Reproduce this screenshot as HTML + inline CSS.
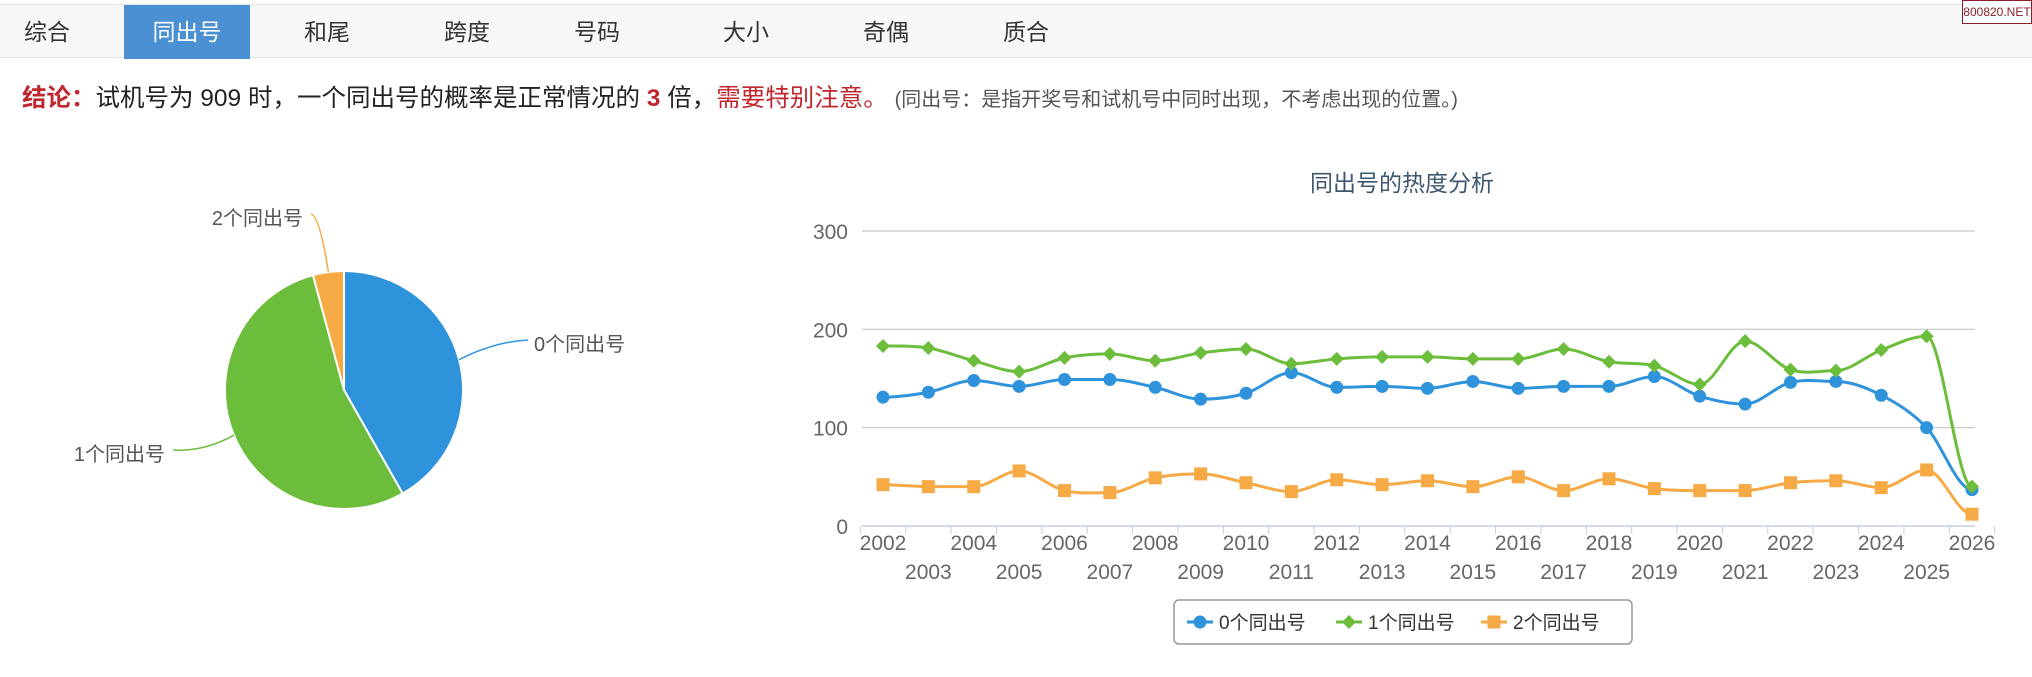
<!DOCTYPE html>
<html><head><meta charset="utf-8">
<style>
*{margin:0;padding:0;box-sizing:border-box}
body{width:2032px;height:677px;background:#fff;font-family:"Liberation Sans","Noto Sans CJK SC",sans-serif;position:relative;overflow:hidden}
.nav{position:absolute;left:0;top:4px;width:2032px;height:54px;background:#f7f7f7;border-top:1px solid #e3e3e3;border-bottom:1px solid #e3e3e3}
.tab{position:absolute;top:0;height:54px;line-height:54px;font-size:23px;color:#333;text-align:center;width:126px}
.tab.active{background:#4a90d2;color:#fff}
.brand{position:absolute;right:0;top:0;width:70px;height:24px;border:1px solid #8a1f2a;color:#8a1f2a;font-size:12px;line-height:22px;text-align:center;background:#fff;white-space:nowrap;overflow:hidden}
.concl{position:absolute;left:22px;top:79px;font-size:24.5px;color:#222;white-space:nowrap}
.red{color:#c0262d}
.note{font-size:20px;color:#555}
</style></head><body>
<div class="nav">
<div class="tab" style="left:-16px">综合</div>
<div class="tab active" style="left:124px">同出号</div>
<div class="tab" style="left:264px">和尾</div>
<div class="tab" style="left:404px">跨度</div>
<div class="tab" style="left:534px">号码</div>
<div class="tab" style="left:683px">大小</div>
<div class="tab" style="left:823px">奇偶</div>
<div class="tab" style="left:963px">质合</div>
</div>
<div class="brand">800820.NET</div>
<div class="concl"><b class="red">结论：</b>试机号为 909 时，一个同出号的概率是正常情况的 <b class="red">3</b> 倍，<span class="red">需要特别注意。</span> <span class="note">(同出号：是指开奖号和试机号中同时出现，不考虑出现的位置。)</span></div>

<svg width="2032" height="677" style="position:absolute;left:0;top:0">
<g id="pie"></g>
<g id="line"></g>
</svg>
<script>
const years=[2002,2003,2004,2005,2006,2007,2008,2009,2010,2011,2012,2013,2014,2015,2016,2017,2018,2019,2020,2021,2022,2023,2024,2025,2026];
const s0=[131,136,148,142,149,149,141,129,135,156,141,142,140,147,140,142,142,152,132,124,146,147,133,100,37];
const s1=[183,181,168,157,171,175,168,176,180,165,170,172,172,170,170,180,167,163,144,188,159,158,179,193,40];
const s2=[42,40,40,56,36,34,49,53,44,35,47,42,46,40,50,36,48,38,36,36,44,46,39,57,12];
const yTicks=[0,100,200,300];
const pieLabels=["0个同出号","1个同出号","2个同出号"];
const pieValues=[41.8,54,4.2];
const colors=["#2f93dc","#6dbd3c","#f5aa46"];
const NS="http://www.w3.org/2000/svg";
function mk(t,a,p){const e=document.createElementNS(NS,t);for(const k in a)e.setAttribute(k,a[k]);p.appendChild(e);return e;}
// pie
const pg=document.getElementById('pie');
const cx=344,cy=390,r=119;
let tot=pieValues.reduce((a,b)=>a+b,0),ang=0;
const lblPos=[[534,351,'start'],[165,461,'end'],[303,225,'end']];
pieValues.forEach((v,i)=>{
 const a0=ang,a1=ang+v/tot*2*Math.PI;ang=a1;
 const x0=cx+r*Math.sin(a0),y0=cy-r*Math.cos(a0),x1=cx+r*Math.sin(a1),y1=cy-r*Math.cos(a1);
 const p=mk('path',{d:`M${cx},${cy}L${x0},${y0}A${r},${r} 0 ${a1-a0>Math.PI?1:0} 1 ${x1},${y1}Z`,fill:colors[i],stroke:'#fff','stroke-width':2},pg);
 
 
 const am=(a0+a1)/2,ex=cx+r*Math.sin(am),ey=cy-r*Math.cos(am);
 const L=lblPos[i];
 const lx=L[2]=='start'?L[0]-6:L[0]+8;
 mk('path',{d:`M${ex},${ey}Q${(ex+lx)/2},${L[1]-9} ${lx},${L[1]-11}`,fill:'none',stroke:colors[i],'stroke-width':1.5},pg);
 const t=mk('text',{x:L[0],y:L[1],'text-anchor':L[2],'font-size':20,fill:'#555'},pg);
 t.textContent=pieLabels[i];
 
 
});
// line chart
const lg=document.getElementById('line');
const X0=883,X1=1972,Y0=526,Y1=231,PL=862,PR=1975;
const xs=i=>X0+(X1-X0)*i/(years.length-1);
const ys=v=>Y0-(Y0-Y1)*v/300;
const title=mk('text',{x:1402,y:191,'text-anchor':'middle','font-size':23,fill:'#3e576f'},lg);
title.textContent='同出号的热度分析';


yTicks.forEach(v=>{
 mk('line',{x1:PL,x2:PR,y1:ys(v),y2:ys(v),stroke:v==0?'#c0d0e0':'#d0d0d0','stroke-width':1.5},lg);
 const t=mk('text',{x:848,y:ys(v)+8,'text-anchor':'end','font-size':21,fill:'#666'},lg);
 t.textContent=v;
 
 
});
years.forEach((y,i)=>{
 const x=xs(i);
 mk('line',{x1:x-22.7,x2:x-22.7,y1:Y0,y2:Y0+8,stroke:'#c0d0e0'},lg);
 const t=mk('text',{x:x,y:i%2==0?Y0+24:Y0+53,'text-anchor':'middle','font-size':21,fill:'#666'},lg);
 t.textContent=y;
 
 
});
mk('line',{x1:X1+22.7,x2:X1+22.7,y1:Y0,y2:Y0+8,stroke:'#c0d0e0'},lg);
function smooth(pts){let d=`M${pts[0][0]},${pts[0][1]}`;for(let i=0;i<pts.length-1;i++){const p1=pts[i],p2=pts[i+1];const p0=pts[i-1]||p1,p3=pts[i+2]||p2;
 const m=(a,b,c)=>{const d1=b[1]-a[1],d2=c[1]-b[1];if(d1*d2<=0)return 0;return (c[1]-a[1])/2;};
 const m1=i==0?0:m(p0,p1,p2),m2=(i+2>=pts.length)?0:m(p1,p2,p3);
 const dx=(p2[0]-p1[0])/3;
 d+=`C${p1[0]+dx},${p1[1]+m1/3} ${p2[0]-dx},${p2[1]-m2/3} ${p2[0]},${p2[1]}`;}return d;}
function marker(k,x,y,c,p){
 if(k==0)return mk('circle',{cx:x,cy:y,r:6.5,fill:c},p);
 if(k==1)return mk('path',{d:`M${x},${y-7}L${x+7},${y}L${x},${y+7}L${x-7},${y}Z`,fill:c},p);
 return mk('rect',{x:x-6.5,y:y-6.5,width:13,height:13,fill:c},p);
}
[s0,s1,s2].forEach((s,k)=>{
 const g=mk('g',{},lg);
 
 
 const pts=s.map((v,i)=>[xs(i),ys(v)]);
 mk('path',{d:smooth(pts),fill:'none',stroke:colors[k],'stroke-width':3},g);
 pts.forEach(p=>{const m=marker(k,p[0],p[1],colors[k],g);
  
  });
});
// legend
const leg=mk('g',{},lg);


mk('rect',{x:1174,y:600,width:458,height:44,rx:5,fill:'#fff',stroke:'#999','stroke-width':1.5},leg);
const lx=[1187,1336,1481];
pieLabels.forEach((l,k)=>{
 const e=mk('g',{},leg);
 
 
 mk('line',{x1:lx[k],x2:lx[k]+26,y1:622,y2:622,stroke:colors[k],'stroke-width':3},e);
 marker(k,lx[k]+13,622,colors[k],e);
 const t=mk('text',{x:lx[k]+32,y:629,'font-size':19,fill:'#333'},e);
 t.textContent=l;
});
</script>
</body></html>
